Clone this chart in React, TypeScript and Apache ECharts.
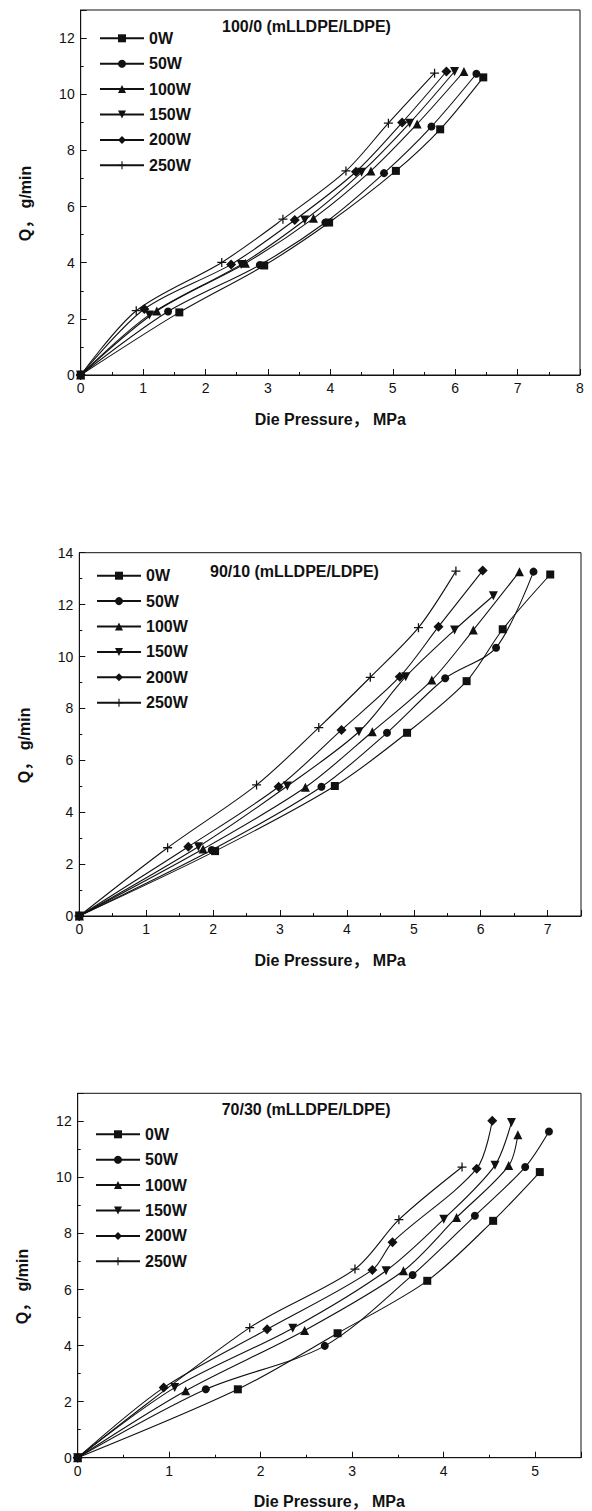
import React, { useEffect, useRef } from "react";
import * as echarts from "echarts";

// ---------- data ----------
const SERIES_NAMES = ["0W", "50W", "100W", "150W", "200W", "250W"];
const PANEL_TITLES = ["100/0 (mLLDPE/LDPE)", "90/10 (mLLDPE/LDPE)", "70/30 (mLLDPE/LDPE)"];

// Panel 1: 100/0
const P1_0W = [[0, 0], [1.58, 2.23], [2.94, 3.9], [3.98, 5.43], [5.05, 7.27], [5.76, 8.75], [6.45, 10.6]];
const P1_50W = [[0, 0], [1.4, 2.26], [2.87, 3.92], [3.92, 5.43], [4.86, 7.19], [5.62, 8.85], [6.34, 10.73]];
const P1_100W = [[0, 0], [1.22, 2.28], [2.64, 3.98], [3.73, 5.58], [4.65, 7.27], [5.39, 8.94], [6.14, 10.81]];
const P1_150W = [[0, 0], [1.1, 2.14], [2.57, 3.94], [3.59, 5.52], [4.5, 7.22], [5.27, 8.97], [5.99, 10.81]];
const P1_200W = [[0, 0], [1.02, 2.35], [2.41, 3.94], [3.43, 5.52], [4.41, 7.24], [5.15, 8.99], [5.86, 10.81]];
const P1_250W = [[0, 0], [0.89, 2.29], [2.26, 4.01], [3.24, 5.55], [4.25, 7.27], [4.93, 8.97], [5.67, 10.75]];

// Panel 2: 90/10
const P2_0W = [[0, 0], [2.03, 2.5], [3.82, 5.01], [4.9, 7.06], [5.79, 9.05], [6.33, 11.05], [7.04, 13.16]];
const P2_50W = [[0, 0], [1.98, 2.54], [3.62, 4.98], [4.6, 7.06], [5.47, 9.16], [6.23, 10.34], [6.79, 13.27]];
const P2_100W = [[0, 0], [1.85, 2.58], [3.38, 4.96], [4.38, 7.1], [5.27, 9.09], [5.89, 11.02], [6.58, 13.27]];
const P2_150W = [[0, 0], [1.78, 2.67], [3.11, 5.01], [4.18, 7.1], [4.88, 9.22], [5.61, 11.02], [6.19, 12.34]];
const P2_200W = [[0, 0], [1.63, 2.67], [2.98, 4.98], [3.92, 7.17], [4.79, 9.22], [5.37, 11.15], [6.03, 13.31]];
const P2_250W = [[0, 0], [1.32, 2.63], [2.65, 5.05], [3.58, 7.26], [4.35, 9.2], [5.07, 11.11], [5.63, 13.29]];

// Panel 3: 70/30
const P3_0W = [[0, 0], [1.75, 2.44], [2.84, 4.44], [3.82, 6.31], [4.54, 8.45], [5.05, 10.19]];
const P3_50W = [[0, 0], [1.4, 2.44], [2.7, 3.99], [3.66, 6.52], [4.34, 8.63], [4.89, 10.37], [5.15, 11.64]];
const P3_100W = [[0, 0], [1.18, 2.39], [2.48, 4.54], [3.56, 6.67], [4.14, 8.57], [4.71, 10.42], [4.81, 11.52]];
const P3_150W = [[0, 0], [1.06, 2.5], [2.35, 4.62], [3.37, 6.67], [4.0, 8.51], [4.56, 10.43], [4.74, 11.96]];
const P3_200W = [[0, 0], [0.94, 2.5], [2.07, 4.58], [3.22, 6.7], [3.44, 7.69], [4.36, 10.31], [4.53, 12.02]];
const P3_250W = [[0, 0], [1.88, 4.64], [3.03, 6.73], [3.51, 8.49], [4.2, 10.37]];

const PANEL_DATA = [
  [P1_0W, P1_50W, P1_100W, P1_150W, P1_200W, P1_250W],
  [P2_0W, P2_50W, P2_100W, P2_150W, P2_200W, P2_250W],
  [P3_0W, P3_50W, P3_100W, P3_150W, P3_200W, P3_250W],
];

// axis ranges
const X_MAX = [8, 7.5, 5.5];
const Y_MAX = [13, 14, 13];
const X_INTERVAL = 1;
const Y_INTERVAL = 2;

// ---------- styling ----------
const FONT = '"Liberation Sans", Arial, "Noto Sans CJK SC", sans-serif';
const INK = "#111";
const DOWN_TRI = "path://M0,0L10,0L5,9Z";
const PLUS = "path://M4.3,0H5.7V4.3H10V5.7H5.7V10H4.3V5.7H0V4.3H4.3Z";
const SYMBOLS = ["rect", "circle", "triangle", DOWN_TRI, "diamond", PLUS];
const SYMBOL_SIZES = [8, 8, 9, 9, 10, 9];

const GRIDS = [
  { left: 80.7, top: 10, width: 499.3, height: 365 },
  { left: 79.3, top: 552.7, width: 501.7, height: 363.3 },
  { left: 77.7, top: 1093.3, width: 503.3, height: 364.4 },
];
const LEGEND_POS = [
  { left: 99, top: 30.3 },
  { left: 96, top: 567.7 },
  { left: 95, top: 1126.3 },
];
const TITLE_POS = [
  { left: 222, top: 18.7 },
  { left: 210, top: 563.7 },
  { left: 221.7, top: 1101.3 },
];

export default function App() {
  const ref = useRef<HTMLDivElement>(null);
  useEffect(() => {
    if (!ref.current) return;
    const chart = echarts.init(ref.current, null, { renderer: "svg" });

    const series: any[] = [];
    PANEL_DATA.forEach((panel, gi) => {
      panel.forEach((data, si) => {
        series.push({
          type: "line",
          name: SERIES_NAMES[si],
          xAxisIndex: gi,
          yAxisIndex: gi,
          data,
          smooth: 0.3,
          symbol: SYMBOLS[si],
          symbolSize: SYMBOL_SIZES[si],
          lineStyle: { color: INK, width: 1.1 },
          itemStyle: { color: INK },
          emphasis: { disabled: true },
        });
      });
    });

    const axisCommon = {
      axisLine: { show: true, onZero: false, lineStyle: { color: INK, width: 1 } },
      axisTick: { show: true, inside: true, length: 6, lineStyle: { color: INK } },
      minorTick: { show: true, splitNumber: 2, length: 3, lineStyle: { color: INK } },
      splitLine: { show: false },
      axisLabel: { color: INK, fontSize: 14, fontFamily: FONT },
      nameTextStyle: { color: INK, fontSize: 16, fontWeight: "bold", fontFamily: FONT },
    };

    const option: any = {
      animation: false,
      backgroundColor: "#fff",
      title: PANEL_TITLES.map((t, i) => ({
        text: t,
        left: TITLE_POS[i].left,
        top: TITLE_POS[i].top,
        padding: 0,
        textStyle: { fontSize: 16, fontWeight: "bold", color: INK, fontFamily: FONT },
      })),
      legend: LEGEND_POS.map((p) => ({
        left: p.left,
        top: p.top,
        orient: "vertical",
        padding: 0,
        itemWidth: 44,
        itemHeight: 10,
        itemGap: 9.4,
        selectedMode: false,
        textStyle: { fontSize: 16, fontWeight: "bold", color: INK, fontFamily: FONT, lineHeight: 16 },
        data: SERIES_NAMES,
      })),
      grid: GRIDS.map((g) => ({
        ...g,
        show: true,
        borderColor: INK,
        borderWidth: 1,
        backgroundColor: "transparent",
        containLabel: false,
      })),
      xAxis: X_MAX.map((mx, i) => ({
        ...axisCommon,
        type: "value",
        gridIndex: i,
        min: 0,
        max: mx,
        interval: X_INTERVAL,
        name: "Die Pressure， MPa",
        nameLocation: "middle",
        nameGap: 36,
        axisLabel: { ...axisCommon.axisLabel, margin: 6, showMaxLabel: mx % 1 === 0 },
      })),
      yAxis: Y_MAX.map((mx, i) => ({
        ...axisCommon,
        type: "value",
        gridIndex: i,
        min: 0,
        max: mx,
        interval: Y_INTERVAL,
        name: "Q， g/min",
        nameLocation: "middle",
        nameGap: 47,
        nameTextStyle: { ...axisCommon.nameTextStyle, padding: [0, 22, 0, 0] },
        axisLabel: { ...axisCommon.axisLabel, margin: 6, showMaxLabel: mx % 2 === 0 },
      })),
      series,
    };

    chart.setOption(option);
    return () => chart.dispose();
  }, []);

  return (
    <div
      ref={ref}
      style={{ position: "absolute", left: 0, top: 0, width: 592, height: 1511, background: "#fff" }}
    />
  );
}
